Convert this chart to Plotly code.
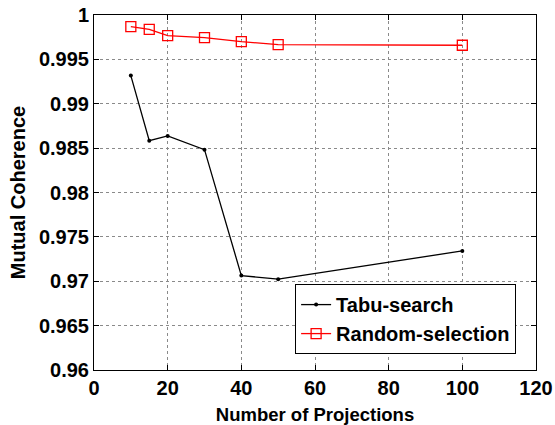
import plotly.graph_objects as go

projections = [10, 15, 20, 30, 40, 50, 100]
tabu_search = [0.99317, 0.98584, 0.98637, 0.98483, 0.97064, 0.97023, 0.97342]
random_selection = [0.99868, 0.99839, 0.99767, 0.99745, 0.99700, 0.99666, 0.99659]

x_ticks = [0, 20, 40, 60, 80, 100, 120]
y_ticks = [0.96, 0.965, 0.97, 0.975, 0.98, 0.985, 0.99, 0.995, 1.0]
y_tick_labels = ["0.96", "0.965", "0.97", "0.975", "0.98", "0.985", "0.99", "0.995", "1"]

FONT = "Liberation Sans"

fig = go.Figure()
fig.add_trace(go.Scatter(
    x=projections, y=tabu_search, name="Tabu-search", mode="lines+markers",
    line=dict(color="black", width=1.3),
    marker=dict(symbol="circle", size=4, color="black"),
))
fig.add_trace(go.Scatter(
    x=projections, y=random_selection, name="Random-selection", mode="lines+markers",
    line=dict(color="red", width=1.3),
    marker=dict(symbol="square-open", size=10, color="red", line=dict(width=1.3)),
))

axis_common = dict(
    showline=True, linecolor="black", linewidth=1, mirror="ticks",
    ticks="inside", ticklen=5, tickcolor="black", tickwidth=1,
    showgrid=True, gridcolor="#8a8a8a", griddash="dot", gridwidth=1,
    zeroline=False, automargin=False, ticklabeloverflow="allow",
    tickfont=dict(family=FONT, size=20, color="black", weight="bold"),
)

fig.update_xaxes(
    range=[0, 120], tickmode="array", tickvals=x_ticks,
    title=dict(text="Number of Projections", standoff=11,
               font=dict(family=FONT, size=18.5, color="black", weight="bold")),
    **axis_common,
)
fig.update_yaxes(
    range=[0.96, 1.0], tickmode="array", tickvals=y_ticks, ticktext=y_tick_labels,
    title=dict(text="Mutual Coherence", standoff=7,
               font=dict(family=FONT, size=20, color="black", weight="bold")),
    **axis_common,
)

fig.update_layout(
    template="none",
    width=555, height=425,
    margin=dict(l=94, r=19, t=15, b=55, autoexpand=False),
    paper_bgcolor="white", plot_bgcolor="white",
    showlegend=True,
    legend=dict(
        x=0.455, y=0.242, xanchor="left", yanchor="top",
        bgcolor="white", bordercolor="black", borderwidth=1,
        font=dict(family=FONT, size=20, color="black", weight="bold"),
        itemwidth=30, tracegroupgap=0,
    ),
)

# remove the page's default body margin so the figure fills the window exactly
fig.write_html("out.html", config={"displayModeBar": False},
               post_script="document.body.style.margin='0';")
